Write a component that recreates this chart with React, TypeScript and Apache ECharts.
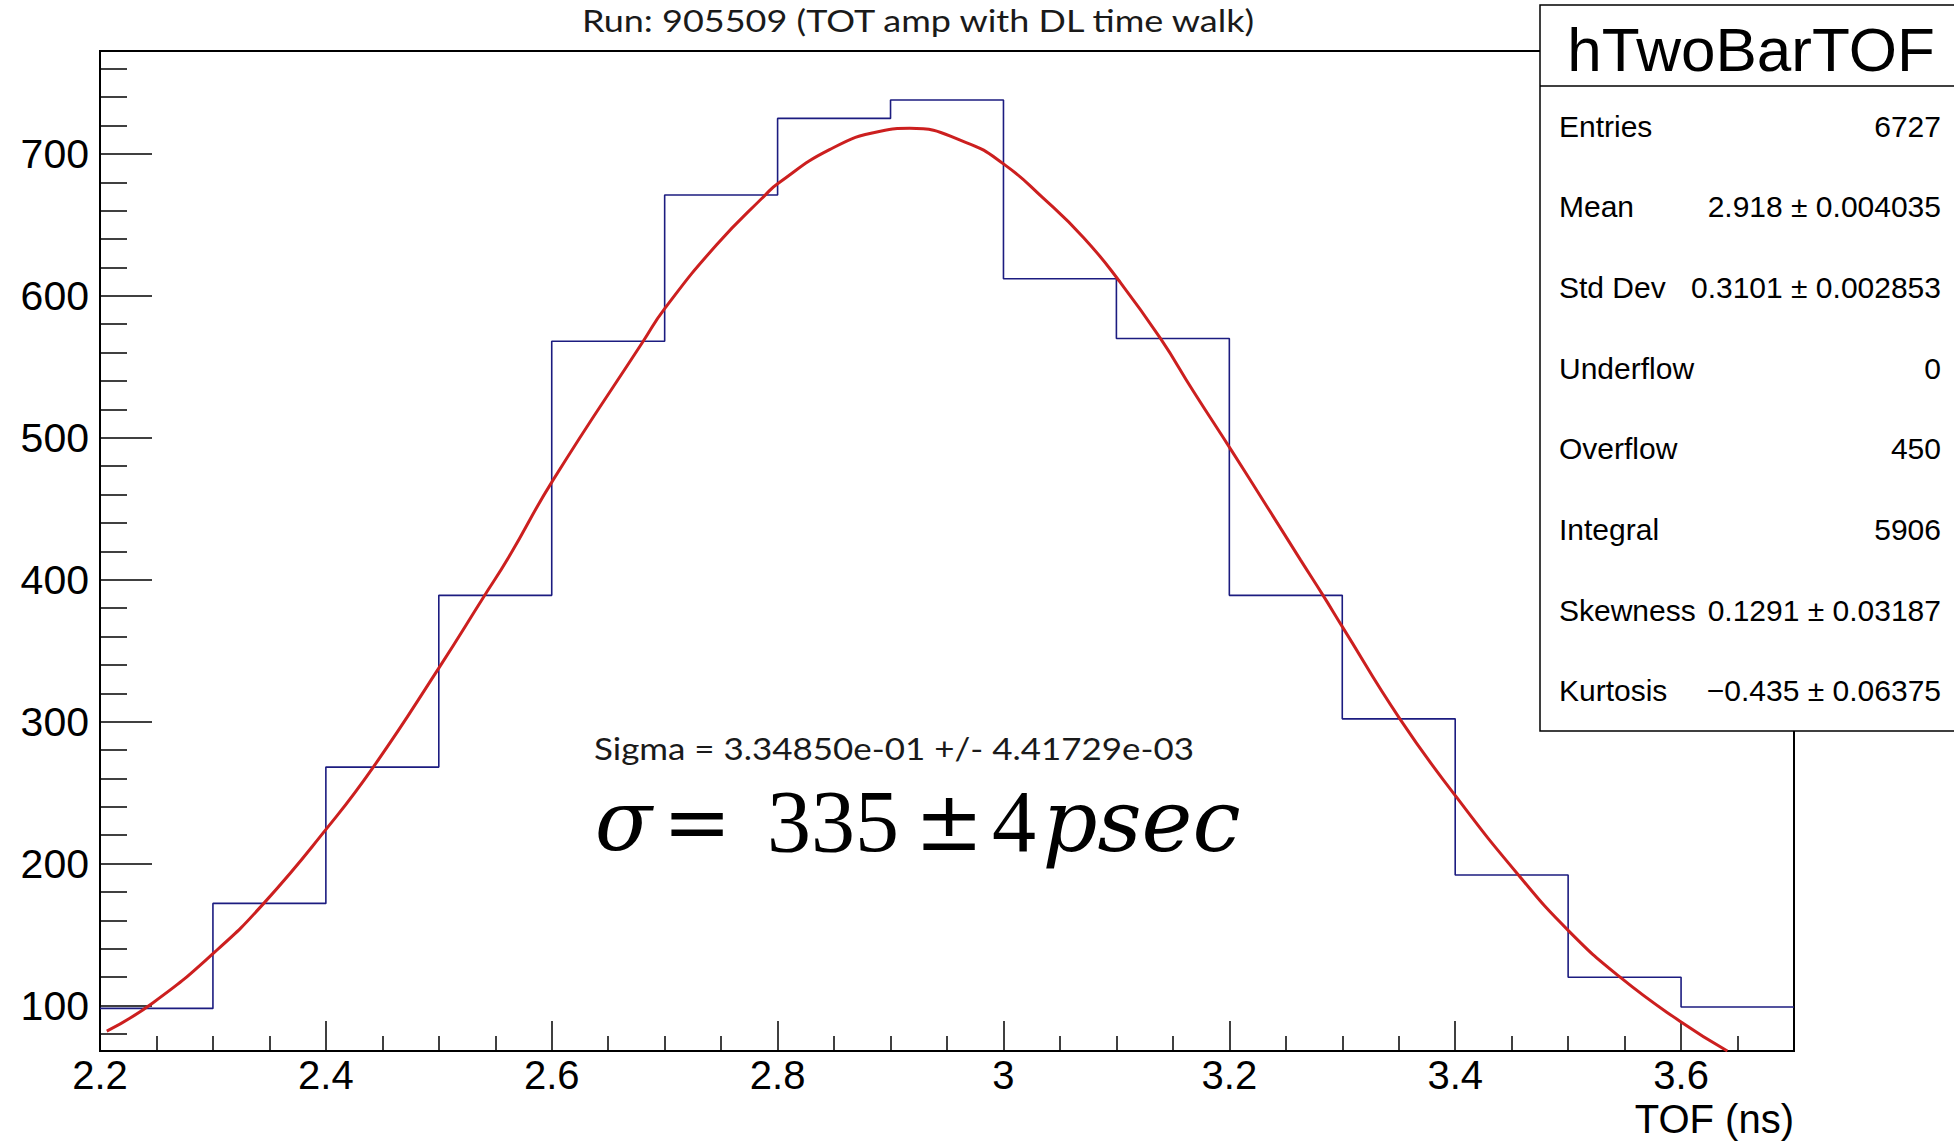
import React, { useEffect, useRef } from "react";
import * as echarts from "echarts";

// Histogram (bin low edges, counts)
const binLowEdges = [2.2, 2.3, 2.4, 2.5, 2.6, 2.7, 2.8, 2.9, 3.0, 3.1, 3.2, 3.3, 3.4, 3.5, 3.6];
const binCounts = [98, 172, 268, 389, 568, 671, 725, 738, 612, 570, 389, 302, 192, 120, 99];
const histUpperEdge = 3.7;

// Gaussian fit curve
const fitX = [2.206, 2.247, 2.302, 2.345, 2.401, 2.442, 2.501, 2.539, 2.562, 2.601, 2.681, 2.7, 2.746, 2.789, 2.8, 2.846, 2.891, 2.917, 2.967, 3.0, 3.035, 3.071, 3.102, 3.139, 3.168, 3.202, 3.233, 3.263, 3.283, 3.3, 3.351, 3.401, 3.456, 3.5, 3.546, 3.599, 3.641];
const fitY = [82, 102, 138, 172, 225, 268, 339, 387, 416, 470, 568, 591, 636, 671, 679, 703, 716, 718, 708, 693, 669, 641, 611, 570, 533, 491, 452, 414, 389, 367, 302, 247, 192, 153, 120, 89, 68];

// Axis ticks
const xMin = 2.2;
const xMax = 3.7;
const yMin = 68;
const yMax = 772.5;
const xMajorTicks = [2.2, 2.4, 2.6, 2.8, 3.0, 3.2, 3.4, 3.6];
const xMinorTicks = [2.25, 2.3, 2.35, 2.45, 2.5, 2.55, 2.65, 2.7, 2.75, 2.85, 2.9, 2.95, 3.05, 3.1, 3.15, 3.25, 3.3, 3.35, 3.45, 3.5, 3.55, 3.65];
const yMajorTicks = [100, 200, 300, 400, 500, 600, 700];
const yMinorTicks = [80, 120, 140, 160, 180, 220, 240, 260, 280, 320, 340, 360, 380, 420, 440, 460, 480, 520, 540, 560, 580, 620, 640, 660, 680, 720, 740, 760];

// Texts
const titleText = "Run: 905509 (TOT amp with DL time walk)";
const xAxisTitle = "TOF (ns)";
const statsTitle = "hTwoBarTOF";
const statsLabels = ["Entries", "Mean", "Std Dev", "Underflow", "Overflow", "Integral", "Skewness", "Kurtosis"];
const statsValues = ["6727", "2.918 \u00b1 0.004035", "0.3101 \u00b1 0.002853", "0", "450", "5906", "0.1291 \u00b1 0.03187", "\u22120.435 \u00b1 0.06375"];
const sigmaFitText = "Sigma = 3.34850e-01 +/- 4.41729e-03";

const SANS = "'Liberation Sans', Arial, Helvetica, sans-serif";

export default function App() {
  const ref = useRef<HTMLDivElement>(null);

  useEffect(() => {
    if (!ref.current) return;
    const chart = echarts.init(ref.current, null, { renderer: "svg" });

    const histData: [number, number][] = binLowEdges.map((x, i) => [x, binCounts[i]]);
    histData.push([histUpperEdge, binCounts[binCounts.length - 1]]);
    const fitData = fitX.map((x, i) => [x, fitY[i]]);

    const fmt = (v: number) => String(parseFloat(Number(v).toFixed(2)));

    // stats box geometry
    const boxX = 1540, boxTop = 5, boxBottom = 731, headerY = 86;
    const rowH = (boxBottom - headerY) / statsLabels.length;

    const graphics: any[] = [
      {
        type: "text",
        x: 918,
        y: 20,
        scaleX: 1.2,
        z: 100,
        style: {
          text: titleText,
          fontFamily: "Lato, 'Open Sans', sans-serif",
          fontSize: 30,
          fill: "#1a1a1a",
          align: "center",
          verticalAlign: "middle",
        },
      },
      {
        type: "text",
        x: 1794,
        y: 1119,
        z: 100,
        style: {
          text: xAxisTitle,
          fontFamily: SANS,
          fontSize: 40,
          lineHeight: 38,
          fill: "#000",
          align: "right",
          verticalAlign: "middle",
        },
      },
      {
        type: "rect",
        z: 100,
        shape: { x: boxX, y: boxTop, width: 500, height: boxBottom - boxTop },
        style: { fill: "#fff", stroke: "#000", lineWidth: 1.5 },
      },
      {
        type: "line",
        z: 101,
        shape: { x1: boxX, y1: headerY, x2: 1954, y2: headerY },
        style: { stroke: "#000", lineWidth: 1.5 },
      },
      {
        type: "text",
        x: 1751,
        y: 49,
        z: 101,
        style: {
          text: statsTitle,
          fontFamily: SANS,
          fontSize: 62,
          fill: "#000",
          align: "center",
          verticalAlign: "middle",
        },
      },
      {
        type: "text",
        x: 594,
        y: 748,
        scaleX: 1.165,
        z: 100,
        style: {
          text: sigmaFitText,
          fontFamily: "Lato, 'Open Sans', sans-serif",
          fontSize: 30,
          fill: "#1a1a1a",
          align: "left",
          verticalAlign: "middle",
        },
      },
      {
        type: "text",
        x: 599,
        y: 821,
        z: 100,
        style: {
          text: "{s|\u03c3}{g1| }{eq|=}{g2| }{n|335}{g3| }{pm|\u00b1}{g4| }{n4|4}{g5| }{p|psec}",
          align: "left",
          verticalAlign: "middle",
          fill: "#000",
          rich: {
            s: { fontFamily: "'DejaVu Serif', serif", fontStyle: "italic", fontSize: 84, width: 49, align: "center", lineHeight: 100 },
            g1: { fontSize: 20, width: 19, lineHeight: 100 },
            eq: { fontFamily: "'DejaVu Serif', serif", fontSize: 82, width: 60, align: "center", lineHeight: 100 },
            g2: { fontSize: 20, width: 39, lineHeight: 100 },
            n: { fontFamily: "'Liberation Serif', serif", fontSize: 88, width: 134, align: "center", lineHeight: 100 },
            g3: { fontSize: 20, width: 20, lineHeight: 100 },
            pm: { fontFamily: "'DejaVu Serif', serif", fontSize: 82, width: 58, align: "center", lineHeight: 100 },
            g4: { fontSize: 20, width: 16, lineHeight: 100 },
            n4: { fontFamily: "'Liberation Serif', serif", fontSize: 88, width: 40, align: "center", lineHeight: 100 },
            g5: { fontSize: 20, width: 9, lineHeight: 100 },
            p: { fontFamily: "'DejaVu Serif', serif", fontStyle: "italic", fontSize: 86, width: 197, align: "center", lineHeight: 100 },
          },
        },
      },
    ];

    statsLabels.forEach((label, i) => {
      const cy = headerY + rowH * (i + 0.5);
      graphics.push({
        type: "text",
        x: 1559,
        y: cy,
        z: 101,
        style: { text: label, fontFamily: SANS, fontSize: 30, fill: "#000", align: "left", verticalAlign: "middle" },
      });
      graphics.push({
        type: "text",
        x: 1941,
        y: cy,
        z: 101,
        style: { text: statsValues[i], fontFamily: SANS, fontSize: 30, fill: "#000", align: "right", verticalAlign: "middle" },
      });
    });

    const tickStyle = { color: "#000", width: 1.5 };

    chart.setOption({
      animation: false,
      backgroundColor: "#fff",
      grid: {
        left: 100,
        top: 51,
        right: 160,
        bottom: 90,
        show: true,
        borderColor: "#000",
        borderWidth: 2,
        backgroundColor: "transparent",
      },
      xAxis: [
        {
          type: "value",
          position: "bottom",
          min: xMin,
          max: xMax,
          axisLine: { show: false },
          splitLine: { show: false },
          axisTick: { show: true, inside: true, length: 30, lineStyle: tickStyle, customValues: xMajorTicks },
          axisLabel: {
            show: true,
            customValues: xMajorTicks,
            formatter: (v: number) => fmt(v),
            fontFamily: SANS,
            fontSize: 40,
            color: "#000",
            margin: 4,
          },
        },
        {
          type: "value",
          position: "bottom",
          min: xMin,
          max: xMax,
          axisLine: { show: false },
          splitLine: { show: false },
          axisLabel: { show: false },
          axisTick: { show: true, inside: true, length: 15, lineStyle: tickStyle, customValues: xMinorTicks },
        },
      ],
      yAxis: [
        {
          type: "value",
          position: "left",
          min: yMin,
          max: yMax,
          axisLine: { show: false },
          splitLine: { show: false },
          axisTick: { show: true, inside: true, length: 52, lineStyle: tickStyle, customValues: yMajorTicks },
          axisLabel: {
            show: true,
            customValues: yMajorTicks,
            fontFamily: SANS,
            fontSize: 41,
            color: "#000",
            margin: 11,
          },
        },
        {
          type: "value",
          position: "left",
          min: yMin,
          max: yMax,
          axisLine: { show: false },
          splitLine: { show: false },
          axisLabel: { show: false },
          axisTick: { show: true, inside: true, length: 27, lineStyle: tickStyle, customValues: yMinorTicks },
        },
      ],
      series: [
        {
          name: "hTwoBarTOF",
          type: "line",
          xAxisIndex: 0,
          yAxisIndex: 0,
          step: "end",
          data: histData,
          showSymbol: false,
          lineStyle: { color: "#1c1c80", width: 1.6 },
          clip: true,
          z: 3,
        },
        {
          name: "gaus",
          type: "line",
          xAxisIndex: 0,
          yAxisIndex: 0,
          data: fitData,
          smooth: 0.5,
          showSymbol: false,
          lineStyle: { color: "#cc1f1f", width: 3 },
          clip: true,
          z: 4,
        },
      ],
      graphic: { elements: graphics },
    });

    return () => {
      chart.dispose();
    };
  }, []);

  return (
    <div
      ref={ref}
      style={{ position: "fixed", left: 0, top: 0, width: 1954, height: 1141, background: "#fff" }}
    />
  );
}
